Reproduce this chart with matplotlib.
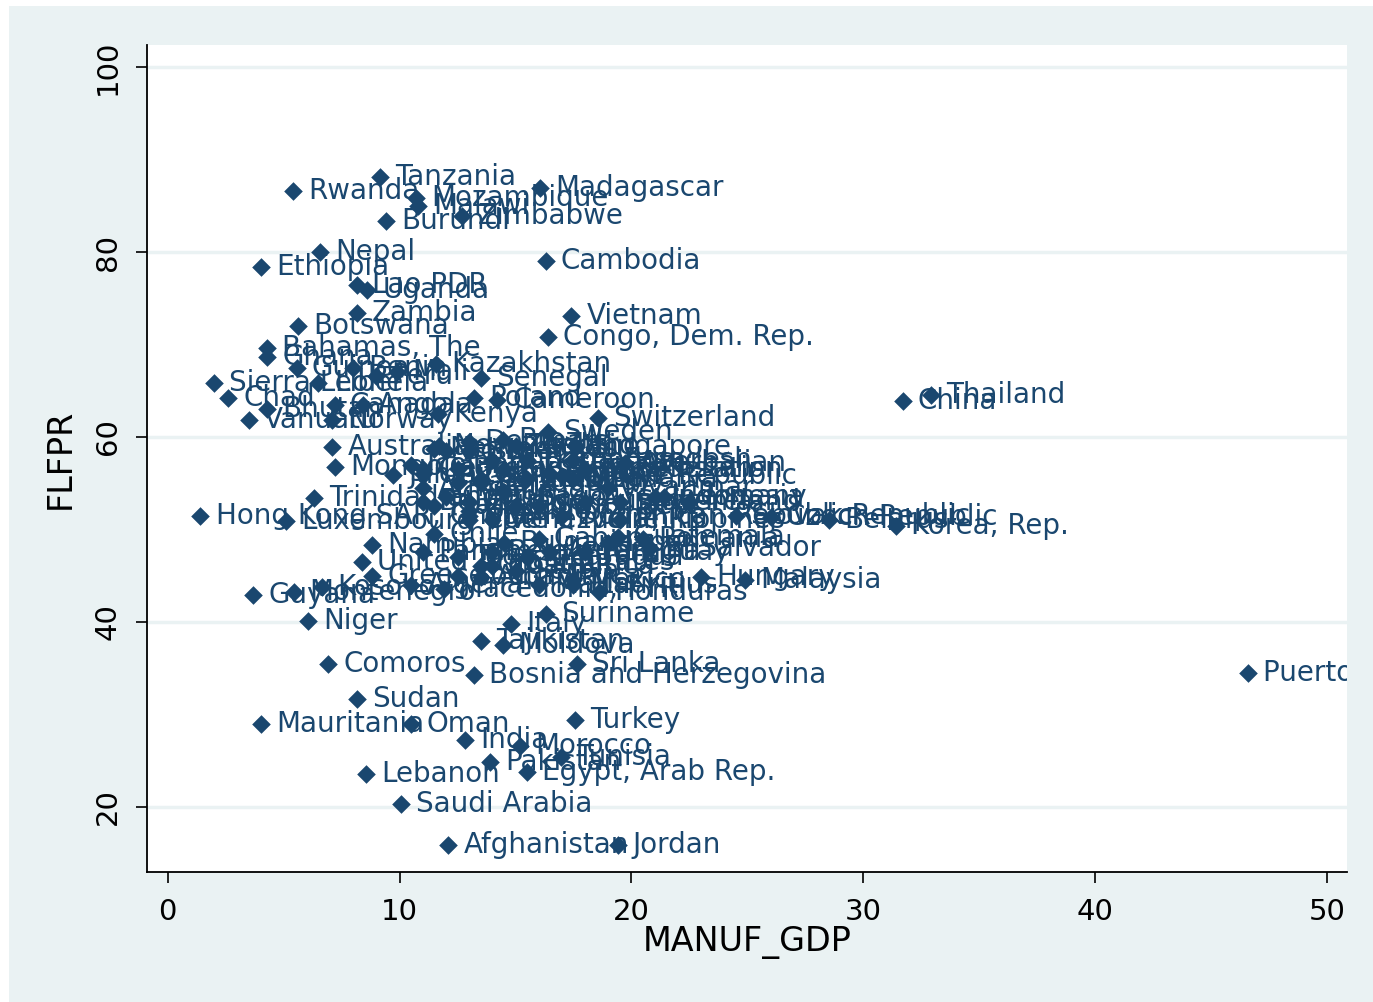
import matplotlib
matplotlib.use("Agg")
import matplotlib.pyplot as plt
from matplotlib.patches import Rectangle

plt.rcParams['font.family'] = ['DejaVu Sans']

# country labels, manufacturing share of GDP (%) and female labour force participation (%)
names = [
    'Tanzania', 'Rwanda', 'Madagascar', 'Mozambique', 'Malawi', 'Burundi', 'Zimbabwe',
    'Nepal', 'Ethiopia', 'Cambodia', 'Lao PDR', 'Uganda', 'Zambia', 'Botswana',
    'Vietnam', 'Congo, Dem. Rep.', 'Bahamas, The', 'Ghana', 'Guinea', 'Benin',
    'Peru', 'Mali', 'Kazakhstan', 'Senegal', 'Sierra Leone', 'Liberia', 'Chad',
    'Bhutan', 'Canada', 'Angola', 'Poland', 'Cameroon', 'Switzerland', 'Kenya',
    'China', 'Thailand', 'Vanuatu', 'Norway', 'Australia', 'Mongolia',
    'Trinidad and Tobago', 'Hong Kong SAR, China', 'Luxembourg', 'Sweden',
    'Singapore', 'Brazil', 'Denmark', 'Jamaica', 'Chile', 'Colombia', 'Mexico',
    'Bolivia', 'Ecuador', 'Nicaragua', 'Costa Rica', 'Panama', 'Uruguay',
    'Venezuela, RB', 'Spain', 'France', 'United Kingdom', 'United States', 'Japan',
    'Netherlands', 'Belgium', 'Portugal', 'Greece', 'Finland', 'Iceland', 'Ireland',
    'New Zealand', 'Israel', 'Estonia', 'Latvia', 'Lithuania', 'Slovenia', 'Croatia',
    'Serbia', 'Romania', 'Bulgaria', 'Ukraine', 'Russian Federation', 'Armenia',
    'Georgia', 'Azerbaijan', 'Kyrgyz Republic', 'Uzbekistan', 'Indonesia',
    'Philippines', 'Bangladesh', 'Myanmar', 'South Africa', 'Lesotho', 'Swaziland',
    'Mauritius', "Cote d'Ivoire", 'Togo', 'Burkina Faso', 'Congo, Rep.', 'Gabon',
    'Algeria', 'Albania', 'Belize', 'Barbados', 'Cyprus', 'Malta', 'Austria',
    'Dominican Republic', 'Guatemala', 'El Salvador', 'Paraguay', 'Argentina',
    'Germany', 'Slovak Republic', 'Czech Republic', 'Belarus', 'Korea, Rep.',
    'Hungary', 'Malaysia', 'Honduras', 'Macedonia, FYR', 'Namibia',
    'United Arab Emirates', 'Kosovo', 'Montenegro', 'Guyana', 'Niger', 'Suriname',
    'Italy', 'Tajikistan', 'Moldova', 'Comoros', 'Bosnia and Herzegovina',
    'Sri Lanka', 'Puerto Rico', 'Sudan', 'Mauritania', 'Oman', 'Turkey', 'India',
    'Morocco', 'Pakistan', 'Tunisia', 'Egypt, Arab Rep.', 'Lebanon',
    'Saudi Arabia', 'Afghanistan', 'Jordan',
]
manuf_gdp = [
    9.15, 5.39, 16.05, 10.7, 10.8, 9.4, 12.7,
    6.56, 4.0, 16.3, 8.15, 8.6, 8.15, 5.6,
    17.4, 16.4, 4.27, 4.27, 5.56, 8.0,
    8.97, 9.9, 11.55, 13.5, 2.0, 6.5, 2.6,
    4.3, 7.2, 8.4, 13.2, 14.2, 18.55, 11.65,
    31.7, 32.9, 3.5, 7.1, 7.1, 7.2,
    6.3, 1.4, 5.1, 16.4,
    17.6, 14.45, 13.0, 9.7, 11.5, 13.5, 17.5,
    12.0, 13.0, 15.5, 14.0, 11.0, 14.5,
    14.0, 13.0, 11.5, 11.0, 12.5, 19.0,
    11.5, 14.0, 13.5, 8.8, 16.5, 10.5, 22.5,
    11.7, 13.0, 15.5, 12.5, 17.5, 19.5, 13.5,
    15.0, 20.5, 14.5, 13.0, 14.5, 11.0,
    11.0, 19.7, 17.0, 18.0, 21.0,
    19.5, 17.5, 19.0, 12.5, 15.0, 16.0,
    17.5, 13.0, 12.5, 14.0, 15.0, 16.0,
    10.5, 13.5, 11.0, 15.5, 12.0, 16.0, 18.0,
    17.0, 19.4, 20.8, 18.0, 16.5,
    21.4, 24.5, 26.0, 28.5, 31.4,
    23.0, 24.9, 18.6, 11.9, 8.8,
    8.37, 6.64, 5.44, 3.67, 6.05, 16.3,
    14.8, 13.5, 14.45, 6.9, 13.2,
    17.65, 46.6, 8.15, 4.0, 10.5, 17.55, 12.8,
    15.2, 13.9, 16.95, 15.5, 8.55,
    10.05, 12.1, 19.4,
]
flfpr = [
    88.1, 86.6, 86.9, 85.8, 85.0, 83.4, 83.9,
    80.0, 78.4, 79.0, 76.4, 75.9, 73.4, 72.0,
    73.1, 70.8, 69.6, 68.6, 67.5, 67.5,
    66.6, 67.0, 67.9, 66.4, 65.8, 65.8, 64.2,
    63.0, 63.5, 63.5, 64.2, 64.0, 62.0, 62.5,
    63.9, 64.5, 61.8, 61.8, 58.9, 56.8,
    53.4, 51.5, 50.9, 60.5,
    58.9, 59.7, 59.5, 55.9, 49.5, 55.5, 44.5,
    58.5, 53.0, 47.0, 46.0, 47.5, 54.0,
    51.0, 51.5, 52.5, 56.0, 56.5, 48.5,
    58.7, 47.5, 55.0, 45.0, 56.0, 57.0, 53.0,
    59.0, 58.5, 55.5, 55.0, 55.5, 53.0, 46.0,
    45.5, 49.0, 48.5, 52.0, 56.5, 54.5,
    56.5, 57.2, 55.8, 56.5, 53.5,
    51.0, 57.5, 54.5, 45.0, 59.0, 52.5,
    44.0, 51.0, 47.0, 57.5, 52.5, 49.0,
    44.0, 44.8, 53.0, 57.5, 53.5, 44.0, 53.0,
    51.5, 49.2, 48.0, 47.5, 47.5,
    53.5, 51.5, 51.3, 51.0, 50.4,
    44.8, 44.5, 43.2, 43.5, 48.3,
    46.5, 43.8, 43.2, 42.9, 40.1, 40.8,
    39.8, 37.9, 37.5, 35.4, 34.2,
    35.4, 34.5, 31.6, 28.9, 29.0, 29.4, 27.2,
    26.6, 24.8, 25.4, 23.8, 23.5,
    20.3, 15.9, 15.9,
]

navy = '#1a476f'
bg = '#eaf2f3'

fig = plt.figure(figsize=(13.73, 10.02), dpi=100, facecolor='white')
fig.patches.append(Rectangle((9 / 1373, 0), 1 - 9 / 1373, 1 - 6 / 1002,
                             transform=fig.transFigure, facecolor=bg,
                             edgecolor='none', zorder=-10))
ax = fig.add_axes([0.107, 0.130, 0.874, 0.825])
ax.set_facecolor('white')

ax.scatter(manuf_gdp, flfpr, marker='D', s=90, color=navy, zorder=3, linewidths=0)
for n, x, y in zip(names, manuf_gdp, flfpr):
    ax.annotate(n, (x, y), xytext=(11, 0), textcoords='offset points',
                va='center', ha='left', fontsize=20, color=navy, zorder=4,
                annotation_clip=False, clip_on=True)

ax.set_xlim(-0.9, 50.86)
ax.set_ylim(12.97, 102.38)
ax.set_xticks([0, 10, 20, 30, 40, 50])
ax.set_yticks([20, 40, 60, 80, 100])
ax.set_yticklabels(['20', '40', '60', '80', '100'], rotation=90, va='center')
ax.grid(axis='y', color=bg, linewidth=2.5)
ax.set_axisbelow(True)
ax.tick_params(axis='both', direction='out', length=8, width=1.2, color='black',
               labelsize=21, labelcolor='black')
ax.tick_params(axis='x', pad=11)
ax.tick_params(axis='y', pad=10)
for s in ['top', 'right']:
    ax.spines[s].set_visible(False)
for s in ['left', 'bottom']:
    ax.spines[s].set_color('black')
    ax.spines[s].set_linewidth(1.3)

ax.set_xlabel('MANUF_GDP', fontsize=24, labelpad=0)
ax.set_ylabel('FLFPR', fontsize=24, labelpad=12)

fig.savefig('out.png', dpi=100, facecolor=fig.get_facecolor())
